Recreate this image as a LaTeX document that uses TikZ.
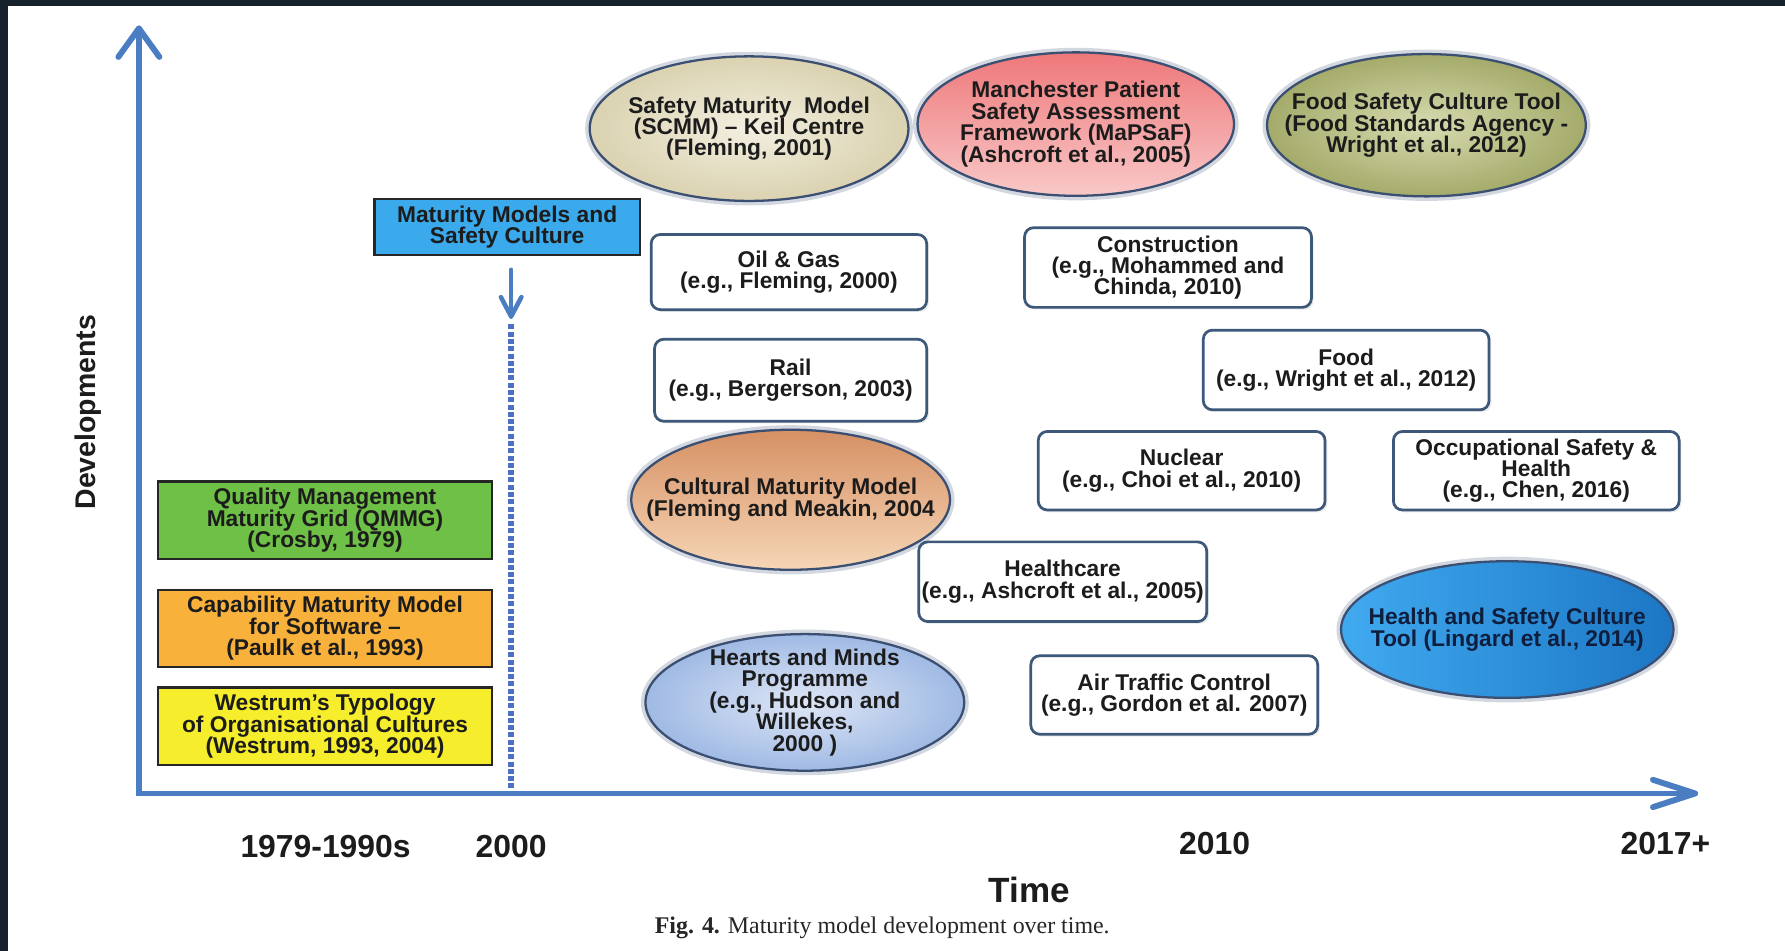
\documentclass[tikz,border=0pt]{standalone}
\usepackage{fontspec}
\setmainfont{Liberation Sans}
\newfontfamily\capfont{Liberation Serif}
\usetikzlibrary{shapes.geometric,shadows,calc}
\definecolor{darkbg}{HTML}{16212B}
\definecolor{axisblue}{HTML}{4A7DC2}
\definecolor{dotblue}{HTML}{4E6FC6}
\definecolor{mmblue}{HTML}{3AAAEC}
\definecolor{qgreen}{HTML}{6EC046}
\definecolor{corange}{HTML}{F8B23C}
\definecolor{wyellow}{HTML}{F6EE2C}
\definecolor{rborder}{HTML}{3D5878}
\definecolor{eborder}{HTML}{3A4F72}
\definecolor{txt}{HTML}{1C1C1C}
\definecolor{navytxt}{HTML}{0E1E3C}
\tikzset{
  lbl/.style={font=\fontsize{10}{9.4}\selectfont\bfseries, text=txt, align=center, inner sep=0pt},
  sqbox/.style={lbl, draw=black!85, line width=1pt, minimum width=146.5pt, minimum height=34pt},
  rbox/.style={lbl, draw=rborder, line width=1.2pt, rounded corners=4pt, fill=white,
    drop shadow={opacity=0.15, shadow xshift=1pt, shadow yshift=-1pt}},
  ell/.style={ellipse, inner sep=0pt, draw=eborder, line width=1pt,
    preaction={draw=eborder, line width=4pt, opacity=0.22}},
  axisline/.style={draw=axisblue, line width=2.6pt, line cap=round, line join=miter},
  chevron/.style={draw=axisblue, line width=2.6pt, line cap=round, line join=round},
  yearlbl/.style={font=\fontsize{14}{16}\selectfont\bfseries, text=txt, inner sep=0pt},
}
\begin{document}
\begin{tikzpicture}[x=0.5pt,y=-0.5pt]
\useasboundingbox (0,0) rectangle (1568,835);
\fill[darkbg] (0,0) rectangle (1568,835);
\fill[white] (7,5) rectangle (1568,835);

% axes
\coordinate (O) at (122,697);
\coordinate (ytip) at (122,25);
\coordinate (xtip) at (1489,697);
\draw[axisline] (ytip) -- (O) -- (xtip);
\draw[chevron] ($(ytip)+(-18,25)$) -- (ytip) -- ($(ytip)+(18,25)$);
\draw[chevron] ($(xtip)+(-37,-12)$) -- (xtip) -- ($(xtip)+(-37,12)$);

\node[font=\fontsize{12.5}{14}\selectfont\bfseries, text=txt, rotate=90, inner sep=0pt] (dev) at (77,362) {Developments};
\node[font=\fontsize{15.4}{17}\selectfont\bfseries, text=txt, inner sep=0pt] (time) at (904,782) {Time};
\node[yearlbl] (y1) at (286,744) {1979-1990s};
\node[yearlbl] (y2) at (449,744) {2000};
\node[yearlbl] (y3) at (1067,741) {2010};
\node[yearlbl] (y4) at (1463,741) {2017+};
\node[font=\capfont\fontsize{10.5}{12}\selectfont, text=black!85, inner sep=0pt] (cap) at (775,815) {\textbf{Fig. 4.} Maturity model development over time.};

% maturity models box + arrow + dotted line
\node[sqbox, fill=mmblue, minimum width=116.5pt, minimum height=24.5pt] (mm) at (445.5,199.5) {Maturity Models and\\Safety Culture};
\coordinate (a1) at (449,237);
\coordinate (a2) at (449,278);
\draw[chevron, line width=2pt] (a1) -- (a2);
\draw[chevron, line width=2pt] ($(a2)+(-9,-17)$) -- (a2) -- ($(a2)+(9,-17)$);
\coordinate (d1) at (449,285);
\coordinate (d2) at (449,693);
\draw[dotblue, line width=2.6pt, dash pattern=on 2.2pt off 1pt] (d1) -- (d2);

% left boxes
\node[sqbox, fill=qgreen] (qmmg) at (285.5,457) {Quality Management\\Maturity Grid (QMMG)\\(Crosby, 1979)};
\node[sqbox, fill=corange] (cmm) at (285.5,552) {Capability Maturity Model\\for Software –\\(Paulk et al., 1993)};
\node[sqbox, fill=wyellow] (west) at (285.5,638) {Westrum's Typology\\of Organisational Cultures\\(Westrum, 1993, 2004)};

% rounded sector boxes
\node[rbox, minimum width=121pt, minimum height=33pt] (oil) at (693,239) {Oil \& Gas\\(e.g., Fleming, 2000)};
\node[rbox, minimum width=119.5pt, minimum height=36pt] (rail) at (694.5,334) {Rail\\(e.g., Bergerson, 2003)};
\node[rbox, minimum width=126pt, minimum height=35pt] (cons) at (1026,235) {Construction\\(e.g., Mohammed and\\Chinda, 2010)};
\node[rbox, minimum width=125.5pt, minimum height=35pt] (food) at (1182.5,325) {Food\\(e.g., Wright et al., 2012)};
\node[rbox, minimum width=126pt, minimum height=34.5pt] (nuc) at (1038,413.5) {Nuclear\\(e.g., Choi et al., 2010)};
\node[rbox, minimum width=125.5pt, minimum height=34.5pt] (occ) at (1349.5,413.5) {Occupational Safety \&\\Health\\(e.g., Chen, 2016)};
\node[rbox, minimum width=126.5pt, minimum height=35pt] (hc) at (933.5,511) {Healthcare\\(e.g., Ashcroft et al., 2005)};
\node[rbox, minimum width=126pt, minimum height=34.5pt] (atc) at (1031.5,610.5) {Air Traffic Control\\(e.g., Gordon et al. 2007)};

% ellipses
\node[ell, minimum width=140pt, minimum height=63.5pt, inner color={rgb,255:red,243;green,239;blue,224}, outer color={rgb,255:red,218;green,210;blue,176}] (scmm) at (658,113) {};
\node[lbl] (scmm-t) at (scmm) {Safety Maturity\ \ Model\\(SCMM) – Keil Centre\\(Fleming, 2001)};

\node[ell, minimum width=139pt, minimum height=63pt, top color={rgb,255:red,238;green,120;blue,122}, bottom color={rgb,255:red,249;green,200;blue,200}] (mapsaf) at (945,109) {};
\node[lbl] (mapsaf-t) at (mapsaf) {Manchester Patient\\Safety Assessment\\Framework (MaPSaF)\\(Ashcroft et al., 2005)};

\node[ell, minimum width=140pt, minimum height=62.5pt, inner color={rgb,255:red,216;green,219;blue,176}, outer color={rgb,255:red,164;green,171;blue,106}] (fsct) at (1253,110) {};
\node[lbl] (fsct-t) at (fsct) {Food Safety Culture Tool\\(Food Standards Agency -\\Wright et al., 2012)};

\node[ell, minimum width=140pt, minimum height=61.5pt, top color={rgb,255:red,214;green,144;blue,100}, bottom color={rgb,255:red,246;green,214;blue,182}] (cult) at (694.5,439) {};
\node[lbl] (cult-t) at (cult) {Cultural Maturity Model\\(Fleming and Meakin, 2004};

\node[ell, minimum width=140pt, minimum height=60pt, inner color={rgb,255:red,222;green,230;blue,246}, outer color={rgb,255:red,160;green,186;blue,228}] (hm) at (707,617) {};
\node[lbl] (hm-t) at (hm) {Hearts and Minds\\Programme\\(e.g., Hudson and\\Willekes,\\2000 )};

\node[ell, minimum width=146pt, minimum height=60pt, left color={rgb,255:red,64;green,170;blue,240}, right color={rgb,255:red,28;green,118;blue,196}] (hsct) at (1324,553) {};
\node[lbl, text=navytxt] (hsct-t) at (hsct) {Health and Safety Culture\\Tool (Lingard et al., 2014)};
\end{tikzpicture}
\end{document}
